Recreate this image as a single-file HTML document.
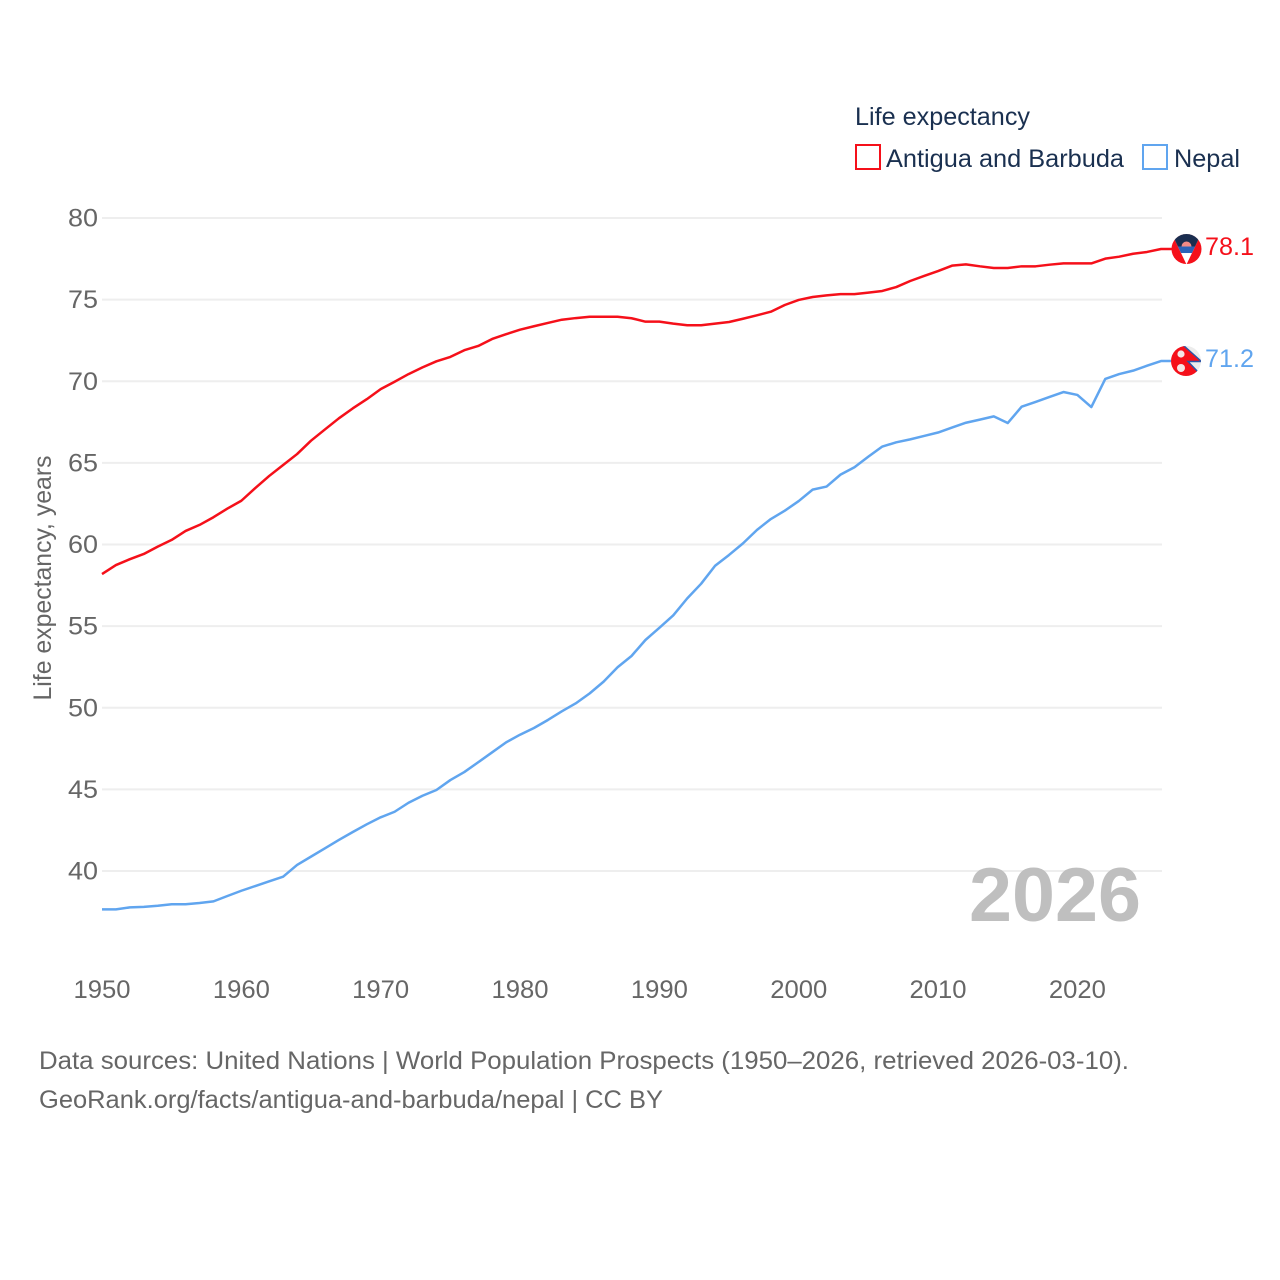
<!DOCTYPE html>
<html lang="en">
<head>
<meta charset="utf-8">
<title>Life expectancy: Antigua and Barbuda and Nepal</title>
<style>
html,body{margin:0;padding:0;background:#fff;width:1280px;height:1280px;overflow:hidden}
svg{display:block}
text{font-family:"Liberation Sans",sans-serif}
</style>
</head>
<body>
<svg id="chart" xmlns="http://www.w3.org/2000/svg" width="1280" height="1280" viewBox="0 0 1280 1280">
  <defs>
    <clipPath id="flag-clip"><circle cx="0" cy="0" r="15"></circle></clipPath>
    <clipPath id="ag-tri"><polygon points="-15,-16 15,-16 0,15.5"></polygon></clipPath>
  </defs>
  <g id="grid"></g>
  <g id="yticks"></g>
  <g id="xticks"></g>
  <text transform="translate(51,578) rotate(-90)" text-anchor="middle" font-size="25" fill="#666666" textLength="245" lengthAdjust="spacingAndGlyphs">Life expectancy, years</text>
  <text x="969" y="921" font-size="76" font-weight="700" fill="#bfbfbf" textLength="172" lengthAdjust="spacingAndGlyphs">2026</text>
  <g id="series"></g>

  <g id="flag-ag">
    <g clip-path="url(#flag-clip)">
      <rect x="-16" y="-16" width="32" height="32" fill="#f5101a"></rect>
      <polygon points="-15,-16 15,-16 0,15.5" fill="#ffffff"></polygon>
      <g clip-path="url(#ag-tri)">
        <rect x="-16" y="-16" width="32" height="13.5" fill="#1a2d4f"></rect>
        <rect x="-16" y="-2.5" width="32" height="6.5" fill="#2a62b8"></rect>
        <path d="M-5,-2.5 A5,5 0 0 1 5,-2.5 Z" fill="#f28a86"></path>
      </g>
    </g>
  </g>
  <g id="flag-np">
    <g clip-path="url(#flag-clip)">
      <rect x="-16" y="-16" width="32" height="32" fill="#ececec"></rect>
      <polygon points="-16,-16 -3,-16 15.5,0.5 2,0.5 15.5,14.5 15.5,16 -16,16" fill="#f5101a" stroke="#2a55a8" stroke-width="1.4"></polygon>
      <circle cx="-5" cy="-7" r="3.6" fill="#f4e6e6"></circle>
      <circle cx="-5" cy="7" r="4" fill="#f4e6e6"></circle>
    </g>
  </g>
  <text id="label-ag" x="1205" font-size="25" fill="#f5101a" textLength="49" lengthAdjust="spacingAndGlyphs"></text>
  <text id="label-np" x="1205" font-size="25" fill="#60a5ef" textLength="49" lengthAdjust="spacingAndGlyphs"></text>

  <g>
    <text x="855" y="125" font-size="25" fill="#1a3050" textLength="175" lengthAdjust="spacingAndGlyphs">Life expectancy</text>
    <rect x="856" y="145" width="24" height="24" fill="#ffffff" stroke="#f5101a" stroke-width="2"></rect>
    <text x="886" y="167" font-size="25" fill="#1a3050" textLength="238" lengthAdjust="spacingAndGlyphs">Antigua and Barbuda</text>
    <rect x="1143" y="145" width="24" height="24" fill="#ffffff" stroke="#60a5ef" stroke-width="2"></rect>
    <text x="1174" y="167" font-size="25" fill="#1a3050" textLength="66" lengthAdjust="spacingAndGlyphs">Nepal</text>
  </g>

  <text x="39" y="1069" font-size="25" fill="#666666" textLength="1090" lengthAdjust="spacingAndGlyphs">Data sources: United Nations | World Population Prospects (1950–2026, retrieved 2026-03-10).</text>
  <text x="39" y="1108" font-size="25" fill="#666666" textLength="624" lengthAdjust="spacingAndGlyphs">GeoRank.org/facts/antigua-and-barbuda/nepal | CC BY</text>
</svg>
<script>
const startYear = 1950;
const yTickValues = [40, 45, 50, 55, 60, 65, 70, 75, 80];
const xTickValues = [1950, 1960, 1970, 1980, 1990, 2000, 2010, 2020];
const antiguaValues = [
  58.19, 58.74, 59.1, 59.42, 59.87, 60.28, 60.83, 61.2, 61.67, 62.2,
  62.68, 63.46, 64.2, 64.87, 65.54, 66.36, 67.05, 67.73, 68.34, 68.9,
  69.52, 69.97, 70.44, 70.85, 71.22, 71.49, 71.9, 72.16, 72.59, 72.88,
  73.16, 73.37, 73.57, 73.77, 73.87, 73.95, 73.95, 73.95, 73.86, 73.65,
  73.65, 73.53, 73.43, 73.43, 73.53, 73.63, 73.83, 74.04, 74.26, 74.67,
  74.98, 75.16, 75.26, 75.34, 75.34, 75.43, 75.53, 75.77, 76.14, 76.45,
  76.75, 77.08, 77.16, 77.04, 76.94, 76.94, 77.04, 77.04, 77.14, 77.22,
  77.22, 77.22, 77.51, 77.63, 77.81, 77.92, 78.1
];
const nepalValues = [
  37.65, 37.65, 37.77, 37.8, 37.87, 37.96, 37.96, 38.04, 38.14, 38.47,
  38.79, 39.08, 39.37, 39.65, 40.37, 40.88, 41.39, 41.9, 42.39, 42.86,
  43.29, 43.63, 44.18, 44.61, 44.96, 45.57, 46.06, 46.66, 47.27, 47.88,
  48.35, 48.76, 49.25, 49.78, 50.27, 50.88, 51.6, 52.48, 53.17, 54.15,
  54.9, 55.66, 56.7, 57.6, 58.7, 59.36, 60.07, 60.89, 61.56, 62.07,
  62.66, 63.36, 63.55, 64.28, 64.73, 65.38, 66.0, 66.26, 66.44, 66.65,
  66.86, 67.16, 67.46, 67.65, 67.85, 67.44, 68.44, 68.73, 69.04, 69.34,
  69.16, 68.42, 70.14, 70.44, 70.65, 70.95, 71.24
];
const antiguaLabel = "78.1";
const nepalLabel = "71.2";

const SVG_NS = "http://www.w3.org/2000/svg";
function xScale(year) { return 102 + (year - 1950) * (1059 / 76); }
function yScale(v) { return 218 + (80 - v) * (653 / 40); }
function make(tag, attrs, parent) {
  const el = document.createElementNS(SVG_NS, tag);
  for (const k in attrs) el.setAttribute(k, attrs[k]);
  parent.appendChild(el);
  return el;
}
const gridGroup = document.getElementById("grid");
const yGroup = document.getElementById("yticks");
const xGroup = document.getElementById("xticks");
const seriesGroup = document.getElementById("series");

yTickValues.forEach(function (v) {
  const y = yScale(v);
  const line = make("line", { x1: 102, x2: 1162, y1: y, y2: y, stroke: "#eeeeee", "stroke-width": 2 }, gridGroup);
  
  
  const t = make("text", { x: 98, y: y + 8.5, "text-anchor": "end", "font-size": 25, fill: "#666666", textLength: 30, lengthAdjust: "spacingAndGlyphs" }, yGroup);
  
  
  t.textContent = String(v);
});
xTickValues.forEach(function (yr) {
  const t = make("text", { x: xScale(yr), y: 998, "text-anchor": "middle", "font-size": 25, fill: "#666666", textLength: 57, lengthAdjust: "spacingAndGlyphs" }, xGroup);
  
  
  t.textContent = String(yr);
});
function linePath(values) {
  let d = values.map(function (v, i) {
    return (i ? "L" : "M") + xScale(startYear + i).toFixed(2) + " " + yScale(v).toFixed(2);
  }).join(" ");
  const last = values[values.length - 1];
  d += " L" + (xScale(startYear + values.length - 1) + 12).toFixed(2) + " " + yScale(last).toFixed(2);
  return d;
}
const antiguaLine = make("path", { d: linePath(antiguaValues), fill: "none", stroke: "#f5101a", "stroke-width": 2.5, "stroke-linejoin": "round" }, seriesGroup);


const nepalLine = make("path", { d: linePath(nepalValues), fill: "none", stroke: "#60a5ef", "stroke-width": 2.5, "stroke-linejoin": "round" }, seriesGroup);



const endX = xScale(startYear + antiguaValues.length - 1);
const agY = yScale(antiguaValues[antiguaValues.length - 1]);
const npY = yScale(nepalValues[nepalValues.length - 1]);
document.getElementById("flag-ag").setAttribute("transform", "translate(" + (endX + 25.5) + "," + agY + ")");
document.getElementById("flag-np").setAttribute("transform", "translate(" + (endX + 25) + "," + npY + ")");
const agText = document.getElementById("label-ag");
agText.setAttribute("y", agY + 6);
agText.textContent = antiguaLabel;
const npText = document.getElementById("label-np");
npText.setAttribute("y", npY + 6);
npText.textContent = nepalLabel;
</script>
</body>
</html>
